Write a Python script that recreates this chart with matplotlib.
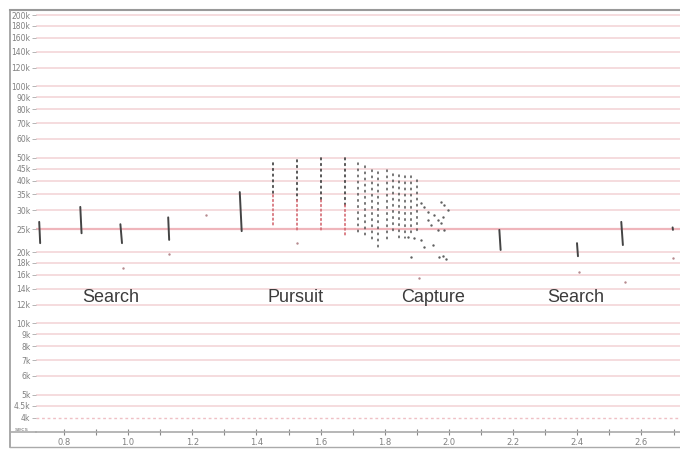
import matplotlib.pyplot as plt
from matplotlib.lines import Line2D

# frequency grid / tick labels (kHz)
freq_ticks = [200, 180, 160, 140, 120, 100, 90, 80, 70, 60, 50, 45, 40, 35, 30,
              25, 20, 18, 16, 14, 12, 10, 9, 8, 7, 6, 5, 4.5, 4]
freq_labels = ["200k", "180k", "160k", "140k", "120k", "100k", "90k", "80k", "70k",
               "60k", "50k", "45k", "40k", "35k", "30k", "25k", "20k", "18k", "16k",
               "14k", "12k", "10k", "9k", "8k", "7k", "6k", "5k", "4.5k", "4k"]
time_ticks = [0.8, 1.0, 1.2, 1.4, 1.6, 1.8, 2.0, 2.2, 2.4, 2.6]
time_minor = [0.9, 1.1, 1.3, 1.5, 1.7, 1.9, 2.1, 2.3, 2.5, 2.7]

# search-phase calls (dense sweeps): start time, end time, high freq, low freq
search_t0 = [0.723, 0.851, 0.976, 1.125, 1.348, 2.157, 2.399, 2.537, 2.697]
search_t1 = [0.726, 0.855, 0.981, 1.128, 1.354, 2.161, 2.402, 2.542, 2.698]
search_fh = [26.8, 31.0, 26.2, 28.0, 35.8, 24.8, 21.8, 26.8, 25.4]
search_fl = [21.8, 24.0, 21.8, 22.5, 24.5, 20.4, 19.2, 21.4, 24.8]

# pursuit calls (dotted sweeps)
pursuit_t = [1.451, 1.526, 1.601, 1.675]
pursuit_fh = [47.5, 48.9, 49.9, 49.9]
pursuit_fred = [34.8, 33.1, 33.1, 31.6]
pursuit_fl = [26.0, 24.3, 24.3, 23.6]

# capture columns
capture_t = [1.716, 1.738, 1.759, 1.778, 1.806, 1.825, 1.844, 1.862, 1.881, 1.900]
capture_fh = [47.5, 46.0, 44.4, 43.4, 44.4, 42.8, 42.3, 41.9, 41.9, 40.3]
capture_fl = [24.3, 22.9, 22.0, 20.4, 22.5, 23.6, 22.5, 22.9, 23.3, 24.3]

# terminal buzz dots
buzz_t = [1.912, 1.921, 1.934, 1.953, 1.965, 1.934, 1.943, 1.965, 1.984, 1.890,
          1.912, 1.921, 1.950, 1.872, 1.974, 1.984, 1.996, 1.981, 1.974, 1.968,
          1.981, 1.990, 1.881]
buzz_f = [32.2, 31.0, 29.5, 28.6, 27.3, 27.3, 26.0, 24.8, 24.8, 22.9,
          22.5, 21.0, 21.4, 23.1, 32.5, 31.6, 30.1, 28.1, 26.5, 19.1,
          19.3, 18.7, 19.1]

# stray dots
stray_t = [0.984, 1.127, 1.242, 1.526, 2.404, 2.548, 2.697, 1.906]
stray_f = [17.1, 19.6, 28.6, 21.8, 16.5, 14.9, 18.9, 15.5]

phase_names = ["Search", "Pursuit", "Capture", "Search"]
phase_t = [0.946, 1.523, 1.950, 2.395]
phase_f = 12.8

fig = plt.figure(figsize=(6.8, 4.49), dpi=100)
ax = fig.add_axes([36 / 680, 17 / 449, 644 / 680, 422 / 449])

ax.set_yscale("log")
ax.set_ylim(3.48, 210)
ax.set_xlim(0.713, 2.72)

# pink frequency grid
for v in freq_ticks:
    if v == 25:
        ax.axhline(v, color="#efb5bb", lw=1.6, zorder=0)
    elif v == 4:
        ax.axhline(v, color="#efc0c5", lw=1, ls=(0, (2, 2)), zorder=0)
    else:
        ax.axhline(v, color="#f2d2d5", lw=1.1, zorder=0)

# search calls
for t0, t1, fh, fl in zip(search_t0, search_t1, search_fh, search_fl):
    ax.plot([t0, t1], [fh, fl], color="#444444", lw=1.4, solid_capstyle="round")

# pursuit calls
for t, fh, fr, fl in zip(pursuit_t, pursuit_fh, pursuit_fred, pursuit_fl):
    ax.plot([t, t], [fh, fr], color="#3a3a3a", lw=1.2, ls=(0, (1, 2.4)),
            dash_capstyle="round")
    ax.plot([t, t], [fr, fl], color="#d46a72", lw=1.2, ls=(0, (1, 1.8)),
            dash_capstyle="round")

# capture columns
for t, fh, fl in zip(capture_t, capture_fh, capture_fl):
    ax.plot([t, t], [fh, fl], color="#505050", lw=1.1, ls=(0, (1, 3)),
            dash_capstyle="round")

ax.scatter(buzz_t, buzz_f, s=3, color="#606060", lw=0)
ax.scatter(stray_t, stray_f, s=3, color="#b58a8e", lw=0)

for name, t in zip(phase_names, phase_t):
    ax.text(t, phase_f, name, ha="center", va="center", fontsize=13,
            family="Liberation Sans", color="#3c3c3c")

ax.set_yticks(freq_ticks)
ax.set_yticklabels(freq_labels)
ax.minorticks_off()
ax.tick_params(axis="y", length=3, width=0.6, color="#aaaaaa", labelsize=5.5,
               labelcolor="#808080", pad=1)

ax.set_xticks(time_ticks)
ax.set_xticklabels([f"{v:.1f}" for v in time_ticks])
ax.set_xticks(time_minor, minor=True)
ax.tick_params(axis="x", which="both", direction="inout", length=5, width=0.8,
               color="#888888", labelsize=6, labelcolor="#808080", pad=2)

for s in ["top", "right", "left"]:
    ax.spines[s].set_visible(False)
ax.spines["bottom"].set_color("#aaaaaa")
ax.spines["bottom"].set_linewidth(1.2)

# outer frame
fig.add_artist(Line2D([10 / 680, 10 / 680], [2 / 449, 439 / 449], color="#999999", lw=1.2))
fig.add_artist(Line2D([10 / 680, 1.0], [439 / 449, 439 / 449], color="#999999", lw=1.5))
fig.add_artist(Line2D([10 / 680, 1.0], [2 / 449, 2 / 449], color="#aaaaaa", lw=1))
fig.add_artist(Line2D([10 / 680, 36 / 680], [17 / 449, 17 / 449], color="#aaaaaa", lw=1.2))
fig.text(22 / 680, 17 / 449, "secs", fontsize=4.5, color="#777777",
         ha="center", va="bottom")

fig.savefig("out.png", dpi=100)
